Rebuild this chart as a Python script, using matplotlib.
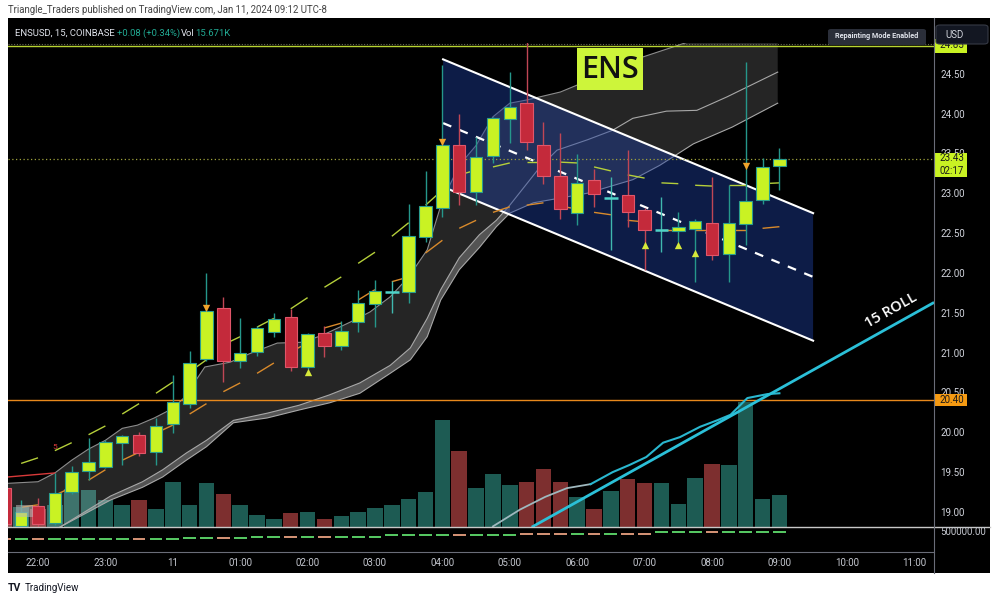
import matplotlib
matplotlib.use("Agg")
import matplotlib.pyplot as plt
from matplotlib.lines import Line2D
from matplotlib.patches import Rectangle, Polygon, FancyBboxPatch
from matplotlib.collections import LineCollection

plt.rcParams["font.family"] = ["Roboto", "DejaVu Sans"]

# 15 minute candles, bar 0 = 22:00
bars = list(range(-2, 45))
opens = [19.30, 18.82, 19.07, 18.86, 19.25, 19.51, 19.56, 19.87, 19.97, 19.75,
         20.10, 20.36, 20.92, 21.56, 20.89, 21.01, 21.26, 21.45, 20.82, 21.25,
         21.08, 21.38, 21.61, 21.76, 21.76, 22.45, 22.81, 23.60, 23.02, 23.47,
         23.93, 24.13, 23.60, 23.22, 22.75, 23.17, 22.94, 22.98, 22.79, 22.54,
         22.53, 22.55, 22.63, 22.24, 22.61, 22.91, 23.34]
highs = [19.35, 19.15, 19.18, 19.49, 19.58, 19.93, 19.90, 19.97, 20.00, 20.18,
         20.72, 21.02, 22.00, 21.70, 21.43, 21.34, 21.50, 21.55, 21.25, 21.33,
         21.40, 21.79, 21.91, 21.90, 22.86, 23.28, 24.61, 24.00, 23.71, 23.96,
         24.52, 24.95, 23.89, 23.75, 23.49, 23.30, 23.20, 23.54, 22.82, 22.95,
         22.76, 22.68, 23.20, 23.10, 24.65, 23.44, 23.57]
lows = [18.75, 18.78, 18.80, 18.84, 19.22, 19.40, 19.55, 19.59, 19.70, 19.59,
        19.99, 20.30, 20.90, 20.63, 20.81, 20.96, 21.19, 20.77, 20.80, 20.95,
        21.03, 21.26, 21.32, 21.50, 21.62, 22.39, 22.70, 22.85, 22.85, 23.38,
        23.63, 23.54, 23.12, 22.68, 22.60, 22.83, 22.29, 22.58, 22.04, 22.26,
        22.39, 21.89, 22.16, 21.89, 22.35, 22.86, 23.04]
closes = [18.85, 19.00, 18.85, 19.24, 19.50, 19.63, 19.88, 19.95, 19.74, 20.08,
          20.38, 20.87, 21.52, 20.89, 21.00, 21.31, 21.42, 20.82, 21.23, 21.08,
          21.27, 21.62, 21.77, 21.76, 22.46, 22.84, 23.60, 23.02, 23.45, 23.94,
          24.08, 23.64, 23.22, 22.80, 23.13, 22.99, 22.94, 22.76, 22.54, 22.54,
          22.57, 22.65, 22.22, 22.63, 22.90, 23.33, 23.43]
volume_k = [18.6, 9.8, 8.8, 10.8, 18.6, 18.1, 13.2, 10.8, 13.2, 8.8,
            22.0, 10.8, 21.6, 16.2, 10.8, 5.9, 3.9, 6.9, 7.4, 3.9,
            5.4, 7.4, 9.3, 10.8, 13.7, 17.2, 52.4, 37.2, 19.1, 26.0,
            20.6, 22.0, 28.4, 22.0, 14.7, 8.8, 17.6, 23.5, 21.6, 21.6,
            11.3, 24.0, 30.9, 30.4, 61.3, 13.7, 15.7]
flow_level = [0.52] * 11 + [0.58] * 4 + [0.60] * 8 + [0.68] * 8 + [0.74] * 8 + [0.80] * 8

time_ticks = [0, 4, 8, 12, 16, 20, 24, 28, 32, 36, 40, 44, 48, 52]
time_labels = ["22:00", "23:00", "11", "01:00", "02:00", "03:00", "04:00",
               "05:00", "06:00", "07:00", "08:00", "09:00", "10:00", "11:00"]
price_ticks = [19.0, 19.5, 20.0, 20.5, 21.0, 21.5, 22.0, 22.5, 23.0, 23.5, 24.0, 24.5]

# gray cloud (upper edge, middle line, lower edge)
cloud_a_x = [-1.78, 0, 1.0, 2.0, 3.0, 4.0, 5.0, 5.9, 6.9, 8.0, 8.7, 9.9, 11.4, 12.6,
             14.2, 15.7, 16.9, 18.5, 19.7, 20.9, 22.0, 23.1, 24.0, 25.0, 26.0, 27.0,
             28.0, 29.0, 31.0, 33.4, 35.9, 38.9, 43.9]
cloud_a_y = [19.36, 19.38, 19.49, 19.65, 19.79, 19.90, 20.05, 20.09, 20.18, 20.30, 20.44,
             20.82, 20.88, 20.99, 21.12, 21.13, 21.22, 21.38, 21.51, 21.70, 21.95, 22.29,
             22.91, 23.35, 23.60, 23.96, 24.13, 24.17, 24.27, 24.48, 24.71, 24.92, 25.17]
cloud_c_x = [-1.78, 1.3, 4.3, 6.2, 7.4, 8.8, 10.0, 11.6, 13.6, 15.5, 17.3, 19.1, 20.9,
             22.1, 23.1, 23.9, 25.0, 26.2, 27.2, 28.0, 29.4, 32.6, 35.3, 36.9, 38.9,
             41.2, 43.9]
cloud_c_y = [18.40, 18.81, 19.15, 19.31, 19.44, 19.65, 19.82, 20.12, 20.18, 20.28, 20.37,
             20.49, 20.74, 20.91, 21.20, 21.66, 22.04, 22.32, 22.58, 22.75, 22.88, 23.00,
             23.17, 23.35, 23.62, 23.83, 24.13]
cloud_b_x = [-1.78, 1.3, 4.3, 6.2, 7.4, 8.8, 10.0, 11.6, 13.6, 15.5, 17.3, 19.1, 20.9,
             22.1, 23.1, 23.9, 25.0, 26.2, 27.2, 28.0, 29.8, 30.8, 32.6, 34.1, 35.3,
             37.3, 39.1, 40.9, 43.9]
cloud_b_y = [18.40, 18.81, 19.20, 19.38, 19.53, 19.74, 19.90, 20.15, 20.24, 20.34, 20.47,
             20.62, 20.84, 21.06, 21.43, 21.79, 22.19, 22.48, 22.66, 22.85, 23.33, 23.54,
             23.67, 23.79, 23.94, 24.03, 24.04, 24.21, 24.52]

# short dashed envelope (drawn on bar pairs)
env_bars = list(range(-1, 45))
env_upper = [19.61, 19.68, 19.77, 19.87, 19.97, 20.08, 20.23, 20.36, 20.49, 20.63,
             20.76, 20.91, 21.10, 21.20, 21.32, 21.43, 21.55, 21.69, 21.82, 21.95,
             22.12, 22.26, 22.46, 22.63, 22.85, 23.04, 23.23, 23.29, 23.33, 23.38,
             23.39, 23.39, 23.39, 23.38, 23.33, 23.28, 23.23, 23.19, 23.13, 23.12,
             23.10, 23.09, 23.10, 23.10, 23.12, 23.13]
env_lower = [19.06, 19.09, 19.21, 19.31, 19.40, 19.53, 19.65, 19.75, 19.99, 20.09,
             20.23, 20.36, 20.51, 20.62, 20.74, 20.87, 21.01, 21.12, 21.31, 21.37,
             21.66, 21.79, 21.89, 21.95, 22.25, 22.41, 22.56, 22.66, 22.76, 22.83,
             22.85, 22.88, 22.84, 22.80, 22.76, 22.73, 22.66, 22.64, 22.54, 22.54,
             22.54, 22.54, 22.54, 22.54, 22.56, 22.58]

# descending channel
channel_x = [24.04, 46.0]
channel_top = [24.68, 22.75]
channel_bot = [23.08, 21.15]

# rolling line and its trendline
roll_x = [27.0, 28.6, 30.1, 31.4, 32.8, 34.1, 35.1, 36.1, 37.1, 38.1, 39.3, 40.3,
          41.1, 42.1, 43.3, 44.0]
roll_y = [18.82, 19.03, 19.19, 19.30, 19.35, 19.50, 19.59, 19.69, 19.87, 19.94, 20.07,
          20.15, 20.22, 20.43, 20.48, 20.49]
trend_x = [29.3, 53.18]
trend_y = [18.81, 21.63]

sell_bars, sell_prices = [10, 24, 42], [21.56, 23.64, 23.34]
buy_bars, buy_prices = [16, 36, 38, 39], [20.76, 22.35, 22.35, 22.25]

last_price = 23.43
support = 20.40
top_level = 24.85

W, H = 1000, 601
XMIN, XMAX = -1.78, 53.175
YMIN, YMAX = 18.812, 24.885


def rect(x0, y0, x1, y1):
    return [x0 / W, 1 - y1 / H, (x1 - x0) / W, (y1 - y0) / H]


def fline(fig, x0, y0, x1, y1, **kw):
    fig.add_artist(Line2D([x0 / W, x1 / W], [1 - y0 / H, 1 - y1 / H],
                          transform=fig.transFigure, **kw))


fig = plt.figure(figsize=(10, 6.01), dpi=100, facecolor="white")
bg = Rectangle((8 / W, 1 - 573 / H), 982 / W, 555 / H, transform=fig.transFigure,
               facecolor="black", edgecolor="none", zorder=-5)
fig.add_artist(bg)

up = [c > o for o, c in zip(opens, closes)]
doji = [abs(c - o) < 0.005 for o, c in zip(opens, closes)]

# volume pane (behind the price pane)
axv = fig.add_axes(rect(8, 43, 934, 527))
axv.set_facecolor("black")
axv.set_xlim(XMIN, XMAX)
axv.set_ylim(0, 237.2)
vcol = ["#1d5b53" if (u or d) else "#7d2f2f" for u, d in zip(up, doji)]
axv.bar(bars, volume_k, width=0.92, color=vcol, linewidth=0)
axv.axis("off")
axv.set_zorder(1)

ax = fig.add_axes(rect(8, 43, 934, 527))
ax.set_zorder(2)
ax.set_facecolor("none")
ax.set_xlim(XMIN, XMAX)
ax.set_ylim(YMIN, YMAX)
for s in ax.spines.values():
    s.set_visible(False)
ax.set_xticks([])
ax.yaxis.tick_right()
ax.set_yticks(price_ticks)
ax.set_yticklabels([f"{p:.2f}" for p in price_ticks])
ax.tick_params(axis="y", length=0, pad=4.5, labelsize=7, labelcolor="#d1d4dc")

# cloud
ax.add_patch(Polygon(list(zip(cloud_a_x, cloud_a_y)) + list(zip(cloud_c_x, cloud_c_y))[::-1],
                     closed=True, facecolor="white", alpha=0.15, edgecolor="none", zorder=1))
nrib = 20
ax.add_patch(Polygon(list(zip(cloud_b_x[:nrib], cloud_b_y[:nrib])) +
                     list(zip(cloud_c_x[:nrib], cloud_c_y[:nrib]))[::-1],
                     closed=True, facecolor="white", alpha=0.22, edgecolor="none", zorder=1.2))
ax.plot(cloud_a_x, cloud_a_y, color="#8c8c8c", lw=0.8, zorder=2)
ax.plot(cloud_b_x, cloud_b_y, color="#a8a8a8", lw=0.8, zorder=2)
ax.plot(cloud_c_x, cloud_c_y, color="#a8a8a8", lw=0.8, zorder=2)

# channel
ax.add_patch(Polygon([(channel_x[0], channel_top[0]), (channel_x[1], channel_top[1]),
                      (channel_x[1], channel_bot[1]), (channel_x[0], channel_bot[0])],
                     closed=True, facecolor="#1f3f9f", alpha=0.45, edgecolor="none", zorder=3))
ax.plot(channel_x, channel_top, color="white", lw=1.5, zorder=3.5)
ax.plot(channel_x, channel_bot, color="white", lw=1.5, zorder=3.5)
ax.plot(channel_x, [(t + b) / 2 for t, b in zip(channel_top, channel_bot)],
        color="white", lw=1.6, dashes=(4, 4), zorder=3.5)

# horizontal levels
ax.axhline(support, color="#e8891c", lw=1, zorder=3.6)
ax.axhline(top_level, color="#b8d432", lw=1, zorder=3.6)
ax.axhline(last_price, color="#9ea03c", lw=0.9, ls=(0, (1, 2)), zorder=3.6)

# envelope dashes
up_segs = [[(env_bars[k], env_upper[k]), (env_bars[k + 1], env_upper[k + 1])]
           for k in range(0, len(env_bars) - 1, 2)]
lo_segs = [[(env_bars[k], env_lower[k]), (env_bars[k + 1], env_lower[k + 1])]
           for k in range(0, len(env_bars) - 1, 2)]
ax.add_collection(LineCollection(up_segs, colors="#b5cf3a", linewidths=1.0, zorder=4))
ax.add_collection(LineCollection(lo_segs, colors="#d98a2b", linewidths=1.0, zorder=4))

# left-edge details
ax.plot([-1.78, 1.0], [19.44, 19.49], color="#d83a3a", lw=1, zorder=4)
ax.text(1.0, 19.82, "5", color="#d83a3a", fontsize=6, ha="center", va="center", zorder=4)
ax.add_patch(Rectangle((-1.3, 18.94), 1.0, 0.15, facecolor="#b8b8b8", alpha=0.55,
                       edgecolor="none", zorder=6.5))

# rolling lines
ax.plot(roll_x[:5], roll_y[:5], color="#9fb8be", lw=1.3, zorder=4.2)
ax.plot(roll_x[4:], roll_y[4:], color="#2ab7cf", lw=1.5, zorder=4.2)
ax.plot(trend_x, trend_y, color="#2bc0d8", lw=2, zorder=4.3, solid_capstyle="butt")
ax.text(50.62, 21.535, "15 ROLL", color="white", fontsize=10.5, rotation=29.5,
        ha="center", va="center", family=["Open Sans", "DejaVu Sans"],
        fontweight="semibold", zorder=8)

# candles
wick_c = ["#3fb8ae" if d else ("#25978b" if u else "#c04655") for u, d in zip(up, doji)]
ax.vlines(bars, lows, highs, colors=wick_c, lw=1, zorder=5)
body_b = [min(o, c) for o, c in zip(opens, closes)]
body_h = [abs(c - o) for o, c in zip(opens, closes)]
body_c = ["#c9f223" if u else "#c42a3b" for u in up]
edge_c = ["#2a9d8f" if u else "#e0566a" for u in up]
nd = [i for i, d in enumerate(doji) if not d]
ax.bar([bars[i] for i in nd], [body_h[i] for i in nd], bottom=[body_b[i] for i in nd],
       width=0.74, color=[body_c[i] for i in nd], edgecolor=[edge_c[i] for i in nd],
       linewidth=0.8, zorder=6)
dj = [i for i, d in enumerate(doji) if d]
ax.hlines([opens[i] for i in dj], [bars[i] - 0.4 for i in dj], [bars[i] + 0.4 for i in dj],
          colors="#4fd3c8", lw=1.8, zorder=6)

ax.scatter(sell_bars, sell_prices, marker="v", s=28, color="#f0a32c", zorder=7, linewidths=0)
ax.scatter(buy_bars, buy_prices, marker="^", s=28, color="#d6e83a", zorder=7, linewidths=0)

# ENS label
ax.add_patch(Rectangle((32.0, 24.295), 3.9, 0.525, facecolor="#cdf53a", edgecolor="none", zorder=8))
ax.text(33.95, 24.55, "ENS", color="#111111", fontsize=22, ha="center", va="center",
        family=["Open Sans", "DejaVu Sans"], fontweight="semibold", zorder=9)

# right axis value boxes
yt = ax.get_yaxis_transform()
bw = 33 / 926
ax.add_patch(Rectangle((1.0, support - 0.075), bw, 0.15, transform=yt, clip_on=False,
                       facecolor="#f59a12", edgecolor="none", zorder=10))
ax.text(1.0 + 5 / 926, support, f"{support:.2f}", transform=yt, fontsize=7, color="#1a1a1a",
        va="center", ha="left", zorder=11)
ax.add_patch(Rectangle((1.0, last_price - 0.227), bw, 0.30, transform=yt, clip_on=False,
                       facecolor="#c9f223", edgecolor="none", zorder=10))
ax.text(1.0 + 5 / 926, last_price + 0.01, f"{last_price:.2f}", transform=yt, fontsize=7,
        color="#1a1a1a", va="center", ha="left", zorder=11)
ax.text(1.0 + 5 / 926, last_price - 0.145, "02:17", transform=yt, fontsize=7,
        color="#1a1a1a", va="center", ha="left", zorder=11)
ax.add_patch(Rectangle((1.0, top_level - 0.088), bw, 0.176, transform=yt, clip_on=False,
                       facecolor="#c9f223", edgecolor="none", zorder=10))
ax.text(1.0 + 5 / 926, top_level + 0.01, f"{top_level:.2f}", transform=yt, fontsize=7,
        color="#1a1a1a", va="center", ha="left", zorder=11)

# lower indicator pane
axs = fig.add_axes(rect(8, 527, 934, 552))
axs.set_facecolor("black")
axs.set_xlim(XMIN, XMAX)
axs.set_ylim(0, 1)
axs.axis("off")
fcol = ["#5fdc6c" if (u or d) else "#e8a080" for u, d in zip(up, doji)]
axs.hlines(flow_level, [b - 0.38 for b in bars], [b + 0.38 for b in bars],
           colors=fcol, lw=1.3)

# time axis
axt = fig.add_axes(rect(8, 552, 934, 573))
axt.set_facecolor("black")
axt.set_xlim(XMIN, XMAX)
axt.set_ylim(0, 1)
axt.axis("off")
for t, lab in zip(time_ticks, time_labels):
    axt.text(t, 0.5, lab, ha="center", va="center", fontsize=7, color="#c4c7cf")

# frame lines
fline(fig, 8, 43.5, 934, 43.5, color="#6a6d55", lw=0.8, ls=(0, (1, 1.5)), zorder=6)
fline(fig, 8, 527, 990, 527, color="#c8c8c8", lw=1.0, zorder=6)
fline(fig, 8, 552, 934, 552, color="#6a6d78", lw=0.8, zorder=6)
fline(fig, 934, 18, 934, 573, color="#6a6d78", lw=0.8, zorder=6)

# header and info bar
fig.text(8 / W, 1 - 10 / H, "Triangle_Traders published on TradingView.com, Jan 11, 2024 09:12 UTC-8",
         fontsize=6.9, color="#444444", va="center", ha="left")
fig.text(15 / W, 1 - 33 / H, "ENSUSD, 15, COINBASE", fontsize=6.8, color="#e0e3eb", va="center")
fig.text(117 / W, 1 - 33 / H, "+0.08 (+0.34%)", fontsize=6.8, color="#22ab94", va="center")
fig.text(181 / W, 1 - 33 / H, "Vol", fontsize=6.8, color="#e0e3eb", va="center")
fig.text(195 / W, 1 - 33 / H, "15.671K", fontsize=6.8, color="#22ab94", va="center")

rp = FancyBboxPatch((828 / W, 1 - 45 / H), 98 / W, 16 / H, boxstyle="round,pad=0,rounding_size=0.003",
                    transform=fig.transFigure, facecolor="#2a2e39", edgecolor="none", zorder=7)
fig.add_artist(rp)
fig.text(877 / W, 1 - 36.5 / H, "Repainting Mode Enabled", fontsize=5.2, color="#e0e3eb",
         fontweight="bold", ha="center", va="center", zorder=8)
usd = FancyBboxPatch((936 / W, 1 - 44 / H), 52 / W, 19 / H, boxstyle="round,pad=0,rounding_size=0.004",
                     transform=fig.transFigure, facecolor="#131722", edgecolor="#363a45",
                     lw=0.8, zorder=12)
fig.add_artist(usd)
fig.text(945 / W, 1 - 34.5 / H, "USD", fontsize=7, color="#d1d4dc", ha="left", va="center", zorder=13)
fig.text(940 / W, 1 - 532 / H, "500000.00", fontsize=7, color="#c4c7cf", ha="left", va="center", zorder=13)

fig.text(8 / W, 1 - 588 / H, "TV", fontsize=7.5, color="#131722", fontweight="bold",
         ha="left", va="center")
fig.text(25 / W, 1 - 588 / H, "TradingView", fontsize=7, color="#131722", ha="left", va="center")

fig.savefig("out.png", dpi=100, facecolor="white")
